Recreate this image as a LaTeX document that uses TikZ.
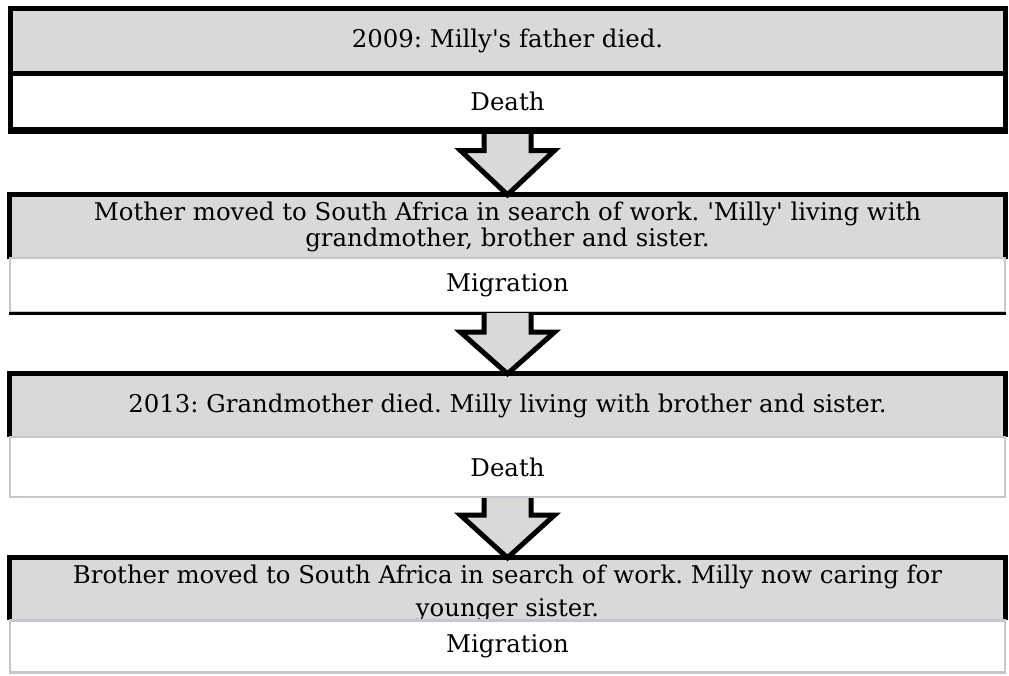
\documentclass[tikz,border=0pt]{standalone}
\usepackage{fontspec}
\setmainfont{DejaVu Serif}
\usetikzlibrary{calc}

\begin{document}
\frenchspacing
\begin{tikzpicture}[x=1pt,y=1pt,yscale=-1,
  headbox/.style={fill=boxgray, minimum width=995, inner sep=0, align=center,
    font=\fontsize{24.4}{26.5}\selectfont},
  kindbox/.style={fill=white, minimum width=995, inner sep=0, align=center,
    font=\fontsize{24.4}{26.5}\selectfont},
  lineof/.style={anchor=base, inner sep=0, font=\fontsize{24.4}{26.5}\selectfont},
  rim/.style={draw=black, line width=5, line join=miter},
  softrim/.style={draw=softgray, line width=2.2},
  downarrow/.style={fill=boxgray, draw=black, line width=5, line join=miter}]
\definecolor{boxgray}{HTML}{D9D9D9}
\definecolor{softgray}{HTML}{C4C7CE}

\useasboundingbox (0,0) rectangle (1009,675);

% first event, framed all round
\node [headbox, rim, minimum height=65] (ev1) at (507.5,40.5) {2009: Milly\textquotesingle s father died.};
\node [kindbox, rim, minimum height=56] (ty1) at (507.5,101) {Death};

% second event
\node [headbox, minimum height=64] (ev2) at (507.5,227) {Mother moved to South Africa in search of work. \textquotesingle Milly\textquotesingle{} living with\\grandmother, brother and sister.};
\draw [rim] (ev2.south west) -- (ev2.north west) -- (ev2.north east) -- (ev2.south east);
\node [kindbox, softrim, minimum height=54] (ty2) at (507.5,285) {Migration};
\draw [draw=black, line width=3] (ty2.south west) -- (ty2.south east);

% third event
\node [headbox, minimum height=63] (ev3) at (507.5,405.5) {2013: Grandmother died. Milly living with brother and sister.};
\draw [rim] (ev3.south west) -- (ev3.north west) -- (ev3.north east) -- (ev3.south east);
\node [kindbox, softrim, minimum height=60] (ty3) at (507.5,467) {Death};

% fourth event, second line runs under the white box
\node [headbox, minimum height=62] (ev4) at (507.5,589) {};
\node [lineof] (tx4a) at (507.5,583) {Brother moved to South Africa in search of work. Milly now caring for};
\node [lineof] (tx4b) at (507.5,616.5) {younger sister.};
\draw [rim] (ev4.south west) -- (ev4.north west) -- (ev4.north east) -- (ev4.south east);
\node [kindbox, softrim, minimum height=52] (ty4) at (507.5,646.5) {Migration};

% block arrows
\draw [downarrow] ($(ty1.south)+(-23.5,0)$) -- ++(0,19) -- ++(-23.5,0) -- (ev2.north)
  -- ($(ty1.south)+(47,19)$) -- ++(-23.5,0) -- ++(0,-19);
\draw [downarrow] ($(ty2.south)+(-23.5,0)$) -- ++(0,19) -- ++(-23.5,0) -- (ev3.north)
  -- ($(ty2.south)+(47,19)$) -- ++(-23.5,0) -- ++(0,-19);
\draw [downarrow] ($(ty3.south)+(-23.5,0)$) -- ++(0,17) -- ++(-23.5,0) -- (ev4.north)
  -- ($(ty3.south)+(47,17)$) -- ++(-23.5,0) -- ++(0,-17);
\draw [rim] (ty1.south west) -- (ty1.south east);

\end{tikzpicture}
\end{document}
